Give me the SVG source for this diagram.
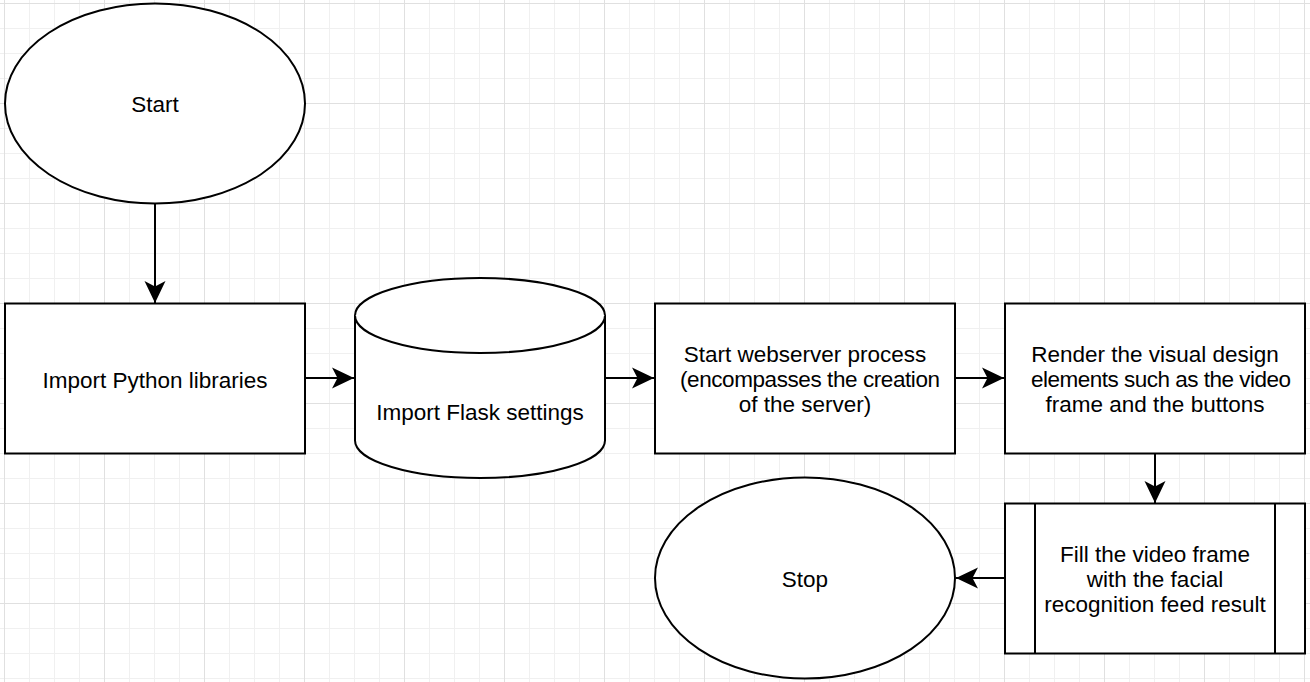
<svg xmlns="http://www.w3.org/2000/svg" width="1310" height="682" viewBox="0 0 1310 682">
<defs>
<pattern id="minor" x="4" y="3" width="25" height="25" patternUnits="userSpaceOnUse">
<path d="M0.5 0V25M0 0.5H25" fill="none" stroke="#f0f0f0" stroke-width="1"/>
</pattern>
<pattern id="major" x="4" y="3" width="100" height="100" patternUnits="userSpaceOnUse">
<path d="M0.5 0V100M0 0.5H100" fill="none" stroke="#e0e0e0" stroke-width="1"/>
</pattern>
<marker id="arrow" viewBox="0 0 24 22" refX="22" refY="11" markerWidth="24" markerHeight="22" markerUnits="userSpaceOnUse" orient="auto">
<path d="M22 11L0 0.5L5.5 11L0 21.5Z" fill="#000"/>
</marker>
</defs>
<style>
.shape{fill:#fff;stroke:#000;stroke-width:2}
.lbl{font-family:"Liberation Sans",Arial,sans-serif;font-size:22.5px;fill:#000;text-anchor:middle}
.conn{fill:none;stroke:#000;stroke-width:2;marker-end:url(#arrow)}
</style>
<rect width="1310" height="682" fill="#fff"/>
<rect width="1310" height="682" fill="url(#minor)"/>
<rect width="1310" height="682" fill="url(#major)"/>

<g id="connectors">
<path class="conn" d="M155 204V303"/>
<path class="conn" d="M305 378H354"/>
<path class="conn" d="M605 378H654"/>
<path class="conn" d="M955 378H1004"/>
<path class="conn" d="M1155 454V503"/>
<path class="conn" d="M1005 578H956"/>
</g>

<g id="start">
<ellipse class="shape" cx="155" cy="103.5" rx="150" ry="100"/>
<text class="lbl" x="155" y="112">Start</text>
</g>

<g id="import-python">
<rect class="shape" x="5" y="303.5" width="300" height="150"/>
<text class="lbl" x="155" y="388">Import Python libraries</text>
</g>

<g id="flask-settings">
<path class="shape" d="M355 315.5A125 37.5 0 0 1 605 315.5V440.5A125 37.5 0 0 1 355 440.5Z"/>
<path class="shape" d="M355 315.5A125 37.5 0 0 0 605 315.5" fill="none"/>
<text class="lbl" x="480" y="420">Import Flask settings</text>
</g>

<g id="webserver">
<rect class="shape" x="655" y="303.5" width="300" height="150"/>
<text class="lbl" x="805" y="362">Start webserver process</text>
<text class="lbl" x="810" y="387" textLength="260" lengthAdjust="spacing">(encompasses the creation</text>
<text class="lbl" x="805" y="412">of the server)</text>
</g>

<g id="render">
<rect class="shape" x="1005" y="303.5" width="300" height="150"/>
<text class="lbl" x="1155" y="362">Render the visual design</text>
<text class="lbl" x="1161" y="387" textLength="260" lengthAdjust="spacing">elements such as the video</text>
<text class="lbl" x="1155" y="412">frame and the buttons</text>
</g>

<g id="fill-frame">
<rect class="shape" x="1005" y="503.5" width="300" height="150"/>
<path class="shape" d="M1035 503.5V653.5M1275 503.5V653.5"/>
<text class="lbl" x="1155" y="562">Fill the video frame</text>
<text class="lbl" x="1155" y="587">with the facial</text>
<text class="lbl" x="1155" y="612">recognition feed result</text>
</g>

<g id="stop">
<ellipse class="shape" cx="805" cy="578" rx="150" ry="100.5"/>
<text class="lbl" x="805" y="587">Stop</text>
</g>
</svg>
